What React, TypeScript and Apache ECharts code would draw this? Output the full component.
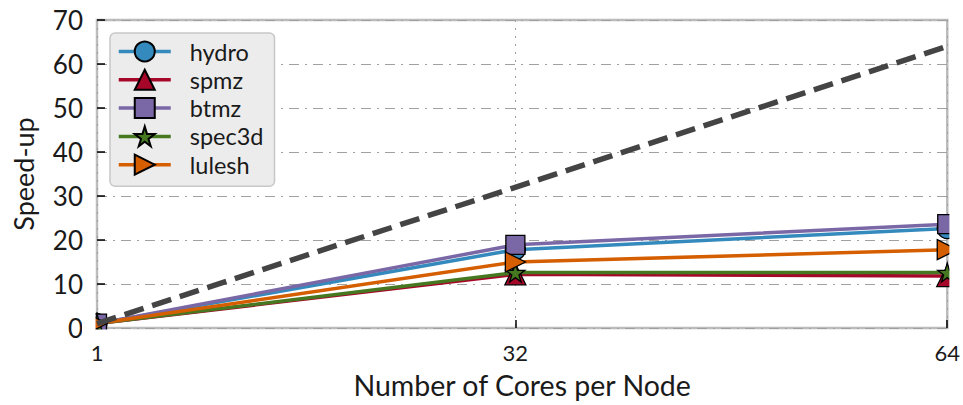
import React, { useEffect, useRef } from "react";
import * as echarts from "echarts";

const cores = [1, 32, 64];
const hydro = [1, 17.8, 22.6];
const spmz = [1, 12.2, 11.8];
const btmz = [1, 18.9, 23.6];
const spec3d = [1, 12.6, 12.6];
const lulesh = [1, 15.0, 17.8];
const idealCores = [1, 64];
const idealSpeedup = [1, 64];
const xTicks = [1, 32, 64];

const FONT = "Lato";
const STAR = "path://M50,0 L61,35 L98,35 L68,57 L79,91 L50,70 L21,91 L32,57 L2,35 L39,35 Z";
const RTRI = "path://M0,0 L100,50 L0,100 Z";

function pairs(xs: number[], ys: number[]) {
  return xs.map((x, i) => [x, ys[i]]);
}

export default function App() {
  const ref = useRef<HTMLDivElement>(null);
  useEffect(() => {
    if (!ref.current) return;
    const chart = echarts.init(ref.current, null, { renderer: "svg" });
    const mk = (name: string, vals: number[], color: string, symbol: string, size: number) => ({
      name,
      type: "line",
      data: pairs(cores, vals),
      symbol,
      symbolSize: size,
      showAllSymbol: true,
      clip: false,
      lineStyle: { color, width: 3.5 },
      itemStyle: { color, borderColor: "#000", borderWidth: 1.3 },
      emphasis: { disabled: true },
    });
    chart.setOption({
      animation: false,
      grid: {
        left: 97,
        right: 15,
        top: 20,
        bottom: 77,
        show: true,
        borderColor: "#bcbcbc",
        borderWidth: 2.5,
        backgroundColor: "transparent",
      },
      xAxis: {
        type: "value",
        min: 1,
        max: 64,
        name: "Number of Cores per Node",
        nameLocation: "middle",
        nameGap: 42,
        nameTextStyle: { fontFamily: FONT, fontSize: 28.5, color: "#1a1a1a" },
        axisLine: { show: false },
        axisTick: { show: true, inside: true, length: 8, customValues: xTicks, lineStyle: { color: "#000", width: 1.5 } },
        axisLabel: { customValues: xTicks, margin: 13, fontFamily: FONT, fontSize: 22, color: "#1a1a1a" },
        splitLine: { show: true, lineStyle: { color: "#a0a0a0", width: 1, type: [2, 6] } },
      },
      yAxis: {
        type: "value",
        min: 0,
        max: 70,
        interval: 10,
        name: "Speed-up",
        nameLocation: "middle",
        nameGap: 60,
        nameTextStyle: { fontFamily: FONT, fontSize: 27, color: "#1a1a1a" },
        axisLine: { show: false },
        axisTick: { show: true, inside: true, length: 8, lineStyle: { color: "#000", width: 1.5 } },
        axisLabel: { margin: 14, fontFamily: FONT, fontSize: 26, color: "#1a1a1a" },
        splitLine: { show: true, lineStyle: { color: "#a0a0a0", width: 1, type: [10, 6, 2, 6] } },
      },
      legend: {
        orient: "vertical",
        left: 110,
        top: 33,
        padding: [6, 11, 9, 7],
        itemWidth: 52,
        itemHeight: 25,
        itemGap: 3.3,
        backgroundColor: "#ececec",
        borderColor: "#c8c8c8",
        borderWidth: 1.5,
        borderRadius: 5,
        lineStyle: { width: 3.5 },
        textStyle: { fontFamily: FONT, fontSize: 23.5, lineHeight: 25, color: "#1a1a1a", padding: [0, 0, 0, 14] },
        data: ["hydro", "spmz", "btmz", "spec3d", "lulesh"],
      },
      series: [
        mk("hydro", hydro, "#348ABD", "circle", 20),
        mk("spmz", spmz, "#A60628", "triangle", 21),
        mk("btmz", btmz, "#7A68A6", "rect", 19),
        mk("spec3d", spec3d, "#467821", STAR, 19),
        mk("lulesh", lulesh, "#D55E00", RTRI, 20),
        {
          name: "ideal",
          type: "line",
          data: pairs(idealCores, idealSpeedup),
          symbol: "none",
          clip: false,
          lineStyle: { color: "#444444", width: 5.5, type: [20, 9] },
          emphasis: { disabled: true },
          z: 5,
        },
      ],
      graphic: [
        { type: "rect", shape: { x: 82, y: 300, width: 13.5, height: 40 }, style: { fill: "#fff" }, z: 100 },
        { type: "rect", shape: { x: 82, y: 329.4, width: 50, height: 11 }, style: { fill: "#fff" }, z: 100 },
        { type: "rect", shape: { x: 949.4, y: 190, width: 14, height: 120 }, style: { fill: "#fff" }, z: 100 },
      ],
    });
    return () => chart.dispose();
  }, []);
  return <div ref={ref} style={{ position: "absolute", left: 0, top: 0, width: 963, height: 405 }} />;
}
